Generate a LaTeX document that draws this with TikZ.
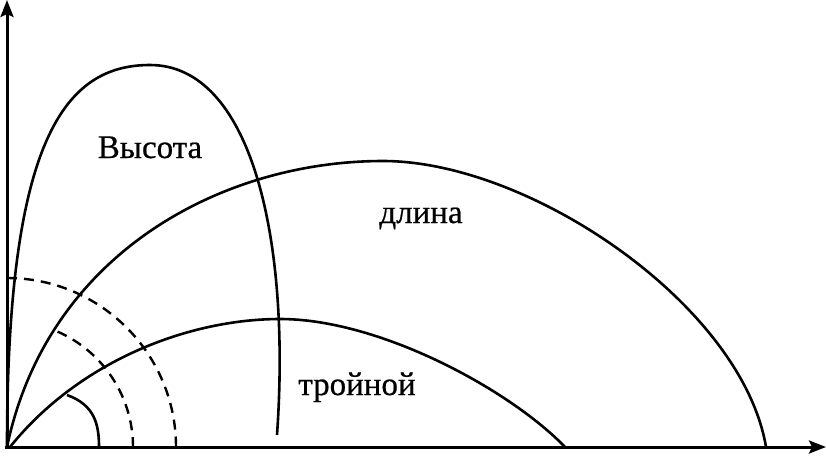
\documentclass[tikz,border=0pt]{standalone}
\usepackage{fontspec}
\setmainfont{Liberation Serif}
\newfontfamily\lblfont[FakeBold=0.6]{Liberation Serif}
\usetikzlibrary{arrows.meta}
\begin{document}
\begin{tikzpicture}[x=1pt,y=-1pt,
  curve/.style={line width=2.6pt, line join=round},
  axisline/.style={line width=3pt,-{Stealth[length=17pt,width=13pt,inset=3pt]}},
  dashedarc/.style={line width=2.4pt, dash pattern=on 10pt off 7pt},
  lbl/.style={font=\lblfont\fontsize{33}{36}\selectfont, anchor=base, inner sep=0pt}]
\useasboundingbox (0,0) rectangle (826,456);
\coordinate (O) at (7,447);
\coordinate (Ytop) at (7,0);
\coordinate (Xend) at (826,447);
% axes
\draw[axisline] (7,449) -- (Ytop);
\draw[axisline] (5,447) -- (Xend);
% tall trajectory
\coordinate (Hpk) at (150,65);
\coordinate (Hend) at (277,435);
\draw[curve] (O) .. controls (7,141) and (64,65) .. (Hpk)
                 .. controls (250,65) and (291,235) .. (Hend);
% medium trajectory
\coordinate (Lpk) at (383,161);
\coordinate (Lend) at (766,447);
\draw[curve] (O) .. controls (47,255) and (220,161) .. (Lpk)
                 .. controls (530,161) and (742,305) .. (Lend);
% low trajectory
\coordinate (Tst) at (10,447);
\coordinate (Tpk) at (280,319);
\coordinate (Tend) at (565,447);
\draw[curve] (Tst) .. controls (80,360) and (190,319) .. (Tpk)
                   .. controls (380,319) and (510,390) .. (Tend);
% angle arc
\coordinate (Aa) at (67,395);
\coordinate (Ab) at (99,447);
\draw[curve] (Aa) .. controls (95,405) and (99,425) .. (Ab);
% dashed arcs
\draw[dashedarc] ([shift={(-90:169)}]O) arc[start angle=-90, end angle=0, radius=169];
\draw[dashedarc] ([shift={(-66.3:126)}]O) arc[start angle=-66.3, end angle=0, radius=126];
% labels
\node[lbl] (h) at (150,158) {Высота};
\node[lbl] (l) at (421,223) {длина};
\node[lbl] (t) at (357,395) {тройной};
\end{tikzpicture}
\end{document}
